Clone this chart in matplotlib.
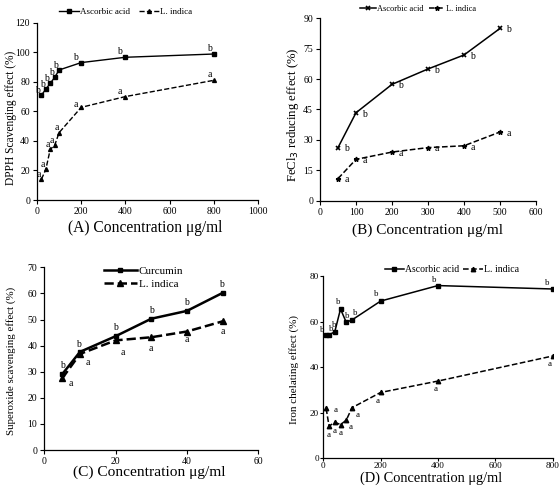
#!/usr/bin/env python3
import matplotlib as mpl
mpl.use('Agg')
import matplotlib.pyplot as plt

mpl.rcParams.update({
    'font.family': ['Liberation Serif', 'DejaVu Serif'],
    'axes.linewidth': 0.9,
    'xtick.direction': 'out',
    'ytick.direction': 'out',
    'xtick.labelsize': 7,
    'ytick.labelsize': 7,
})

W, H = 560, 493

# (A) DPPH scavenging
conc_a = [20, 40, 60, 80, 100, 200, 400, 800]
dpph_asc = [71, 75, 79, 83, 88, 93, 96.6, 98.8]
dpph_li = [14, 20.8, 34.3, 37, 45.6, 62.7, 70, 81]

# (B) FeCl3 reducing
conc_b = [50, 100, 200, 300, 400, 500]
fecl_asc = [26.2, 43.4, 57.4, 65, 71.9, 85]
fecl_li = [10.9, 20.4, 24, 26.2, 27.1, 33.9]

# (C) superoxide scavenging
conc_c = [5, 10, 20, 30, 40, 50]
sox_cur = [29, 37.6, 43.6, 50.3, 53.3, 60.2]
sox_li = [27.4, 36.8, 42, 43.2, 45.4, 49.3]

# (D) iron chelating
conc_d = [10, 20, 40, 60, 80, 100, 200, 400, 800]
chel_asc = [54, 54.2, 55.5, 65.5, 59.7, 60.7, 69, 75.8, 74.3]
chel_li = [21.9, 14.1, 15.8, 14.8, 16.7, 22.2, 28.9, 33.9, 44.9]


def px_axes(l, t, r, b):
    return fig.add_axes([l / W, 1 - b / H, (r - l) / W, (b - t) / H])


def style(ax, length=3, pad=2):
    for s in ('top', 'right'):
        ax.spines[s].set_visible(False)
    ax.tick_params(length=length, width=0.8, pad=pad)


def letters(ax, xs, ys, txt, offsets, fs=7):
    for x, y, (dx, dy) in zip(xs, ys, offsets):
        ax.annotate(txt, (x, y), xytext=(dx, dy), textcoords='offset points',
                    ha='center', va='center', fontsize=fs)


def ftext(x, y, s, **kw):
    fig.text(x / W, 1 - y / H, s, ha='center', va='center', **kw)


fig = plt.figure(figsize=(W / 100, H / 100), dpi=100)

# ---- A
ax = px_axes(37, 22.7, 258, 200)
style(ax)
ax.plot(conc_a, dpph_asc, '-', color='black', lw=1.0, marker='s', ms=2.2, label='Ascorbic acid')
ax.plot(conc_a, dpph_li, '--', color='black', lw=1.0, marker='^', ms=2.8, label='L. indica')
letters(ax, conc_a, dpph_asc, 'b', [(-2.5, 3.5)] * 5 + [(-4, 4), (-4, 4), (-3, 4)])
letters(ax, conc_a, dpph_li, 'a', [(-2, 3.5)] * 5 + [(-4, 2), (-4, 4), (-3, 4)])
ax.set_xlim(0, 1000)
ax.set_ylim(0, 120)
ax.set_xticks(range(0, 1001, 200))
ax.set_yticks(range(0, 121, 20))
ax.legend(loc='lower left', bbox_to_anchor=(0.07, 1.0), ncol=2, frameon=False,
          fontsize=6.5, handlelength=2.2, columnspacing=1.0, handletextpad=0.15,
          borderaxespad=0.3)
ftext(11.3, 118, 'DPPH Scavenging effect (%)', rotation=90, fontsize=8.3)
ftext(145, 228, '(A) Concentration μg/ml', fontsize=11.2)

# ---- B
ax = px_axes(320, 18.3, 536, 200.7)
style(ax)
ax.plot(conc_b, fecl_asc, '-', color='black', lw=1.1, marker='x', ms=2.8, mew=1.2, label='Ascorbic acid')
ax.plot(conc_b, fecl_li, '--', color='black', lw=1.1, marker='*', ms=3.5, label='L. indica')
letters(ax, conc_b, fecl_asc, 'b', [(6, -1)] * 6)
letters(ax, conc_b, fecl_li, 'a', [(6, -1)] * 6)
ax.set_xlim(0, 600)
ax.set_ylim(0, 90)
ax.set_xticks(range(0, 601, 100))
ax.set_yticks(range(0, 91, 15))
ax.legend(loc='lower left', bbox_to_anchor=(0.17, 1.01), ncol=2, frameon=False,
          fontsize=6, handlelength=1.9, columnspacing=0.6, handletextpad=0.15,
          borderaxespad=0.0)
ftext(293, 115, 'FeCl$_3$ reducing effect (%)', rotation=90, fontsize=9.2)
ftext(427, 230, '(B) Concentration μg/ml', fontsize=11)

# ---- C
ax = px_axes(44.3, 267.3, 258.3, 450)
style(ax)
ax.plot(conc_c, sox_cur, '-', color='black', lw=1.8, marker='s', ms=3.5, label='Curcumin')
ax.plot(conc_c, sox_li, '--', color='black', lw=1.8, marker='^', ms=4.5, label='L. indica')
letters(ax, conc_c, sox_cur, 'b', [(0, 6), (-1, 5), (0, 6), (0, 6), (0, 6), (-1, 6)])
letters(ax, conc_c, sox_li, 'a', [(6, -3.5), (5.5, -6), (5, -9), (0, -8), (0, -6), (0, -7)])
ax.set_xlim(0, 60)
ax.set_ylim(0, 70)
ax.set_xticks(range(0, 61, 20))
ax.set_yticks(range(0, 71, 10))
ax.legend(loc='upper left', bbox_to_anchor=(0.23, 1.06), frameon=False, fontsize=8,
          handlelength=3.0, handletextpad=0.15, labelspacing=0.3)
ftext(11.5, 361, 'Superoxide scavenging effect (%)', rotation=90, fontsize=7.8)
ftext(149, 472, '(C) Concentration μg/ml', fontsize=11.1)

# ---- D
ax = px_axes(323.3, 276, 552.7, 458.3)
style(ax, length=2.2, pad=0.8)
ax.tick_params(labelsize=6.6)
ax.plot(conc_d, chel_asc, '-', color='black', lw=1.1, marker='s', ms=2.8, label='Ascorbic acid')
ax.plot(conc_d, chel_li, '--', color='black', lw=1.1, marker='^', ms=3.2, label='L. indica')
letters(ax, conc_d, chel_asc, 'b', [(-2.5, 4), (1.5, 4.5), (-0.5, 5), (-2, 5), (1, 4.5), (2, 5),
                                     (-3, 5), (-3, 4), (-4, 4)], fs=6.3)
letters(ax, conc_d, chel_li, 'a', [(7, -1), (0, -6), (0, -6), (0, -6), (3, -5), (4, -5),
                                    (-2, -6), (-2, -6), (-2, -6)], fs=6.5)
ax.set_xlim(0, 800)
ax.set_ylim(0, 80)
ax.set_xticks(range(0, 801, 200))
ax.set_yticks(range(0, 81, 20))
ax.legend(loc='lower left', bbox_to_anchor=(0.25, 0.99), ncol=2, frameon=False,
          fontsize=7, handlelength=2.0, columnspacing=0.4, handletextpad=0.15,
          borderaxespad=0.0)
ftext(294, 369, 'Iron chelating effect (%)', rotation=90, fontsize=8)
ftext(431, 478, '(D) Concentration μg/ml', fontsize=10.4)

fig.savefig('out.png', dpi=100)
